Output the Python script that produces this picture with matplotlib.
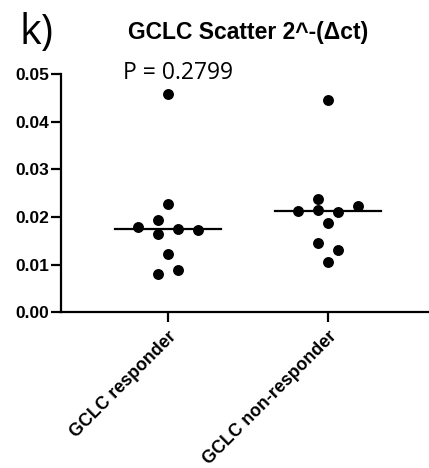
import matplotlib.pyplot as plt
import numpy as np

# 2^-(dCt) values per group
groups = ["GCLC responder", "GCLC non-responder"]
responder = [0.0458, 0.0228, 0.0193, 0.0180, 0.0175, 0.0173, 0.0164, 0.0123, 0.0089, 0.0080]
non_responder = [0.0446, 0.0238, 0.0223, 0.0213, 0.0215, 0.0211, 0.0187, 0.0145, 0.0131, 0.0105]
p_value = 0.2799

# horizontal slots for the scatter layout (in dot half-widths)
slots_resp = [0, 0, -1, -3, 1, 3, -1, 0, 1, -1]
slots_non = [0, -1, 3, -3, -1, 1, 0, -1, 1, 0]
slot_w = 0.062

fig = plt.figure(figsize=(4.29, 4.68), dpi=100)
ax = fig.add_axes([0.1422, 0.3327, 0.8578, 0.5092])

for i, (vals, slots) in enumerate([(responder, slots_resp), (non_responder, slots_non)]):
    x = i + np.array(slots) * slot_w
    ax.scatter(x, vals, s=62, color="black", zorder=3, linewidths=0)
    med = np.median(vals)
    ax.plot([i - 0.33, i + 0.33], [med, med], color="black", lw=1.6, zorder=2)

ax.set_xlim(-0.664, 1.627)
ax.set_ylim(0, 0.05)
ax.set_yticks(np.arange(0, 0.051, 0.01))
ax.set_yticklabels([f"{v:.2f}" for v in np.arange(0, 0.051, 0.01)],
                   fontsize=12.5, fontweight="bold", family="Liberation Sans")
ax.set_xticks([0, 1])
ax.set_xticklabels(groups, rotation=45, ha="right", rotation_mode="anchor",
                   fontsize=12.8, fontweight="bold", family="Liberation Sans")

for side in ["top", "right"]:
    ax.spines[side].set_visible(False)
for side in ["left", "bottom"]:
    ax.spines[side].set_linewidth(1.6)
ax.tick_params(width=1.6, length=7.5, pad=1)
ax.tick_params(axis="x", pad=4)

fig.text(0.045, 0.905, "k)", fontsize=30, family="Open Sans")
fig.text(0.578, 0.93, "GCLC Scatter 2^-(Δct)", fontsize=16.5, fontweight="bold",
         family="Liberation Sans", ha="center", va="center")
fig.text(0.287, 0.832, f"P = {p_value}", fontsize=16.5, family="Open Sans")

fig.savefig("out.png", dpi=100)
